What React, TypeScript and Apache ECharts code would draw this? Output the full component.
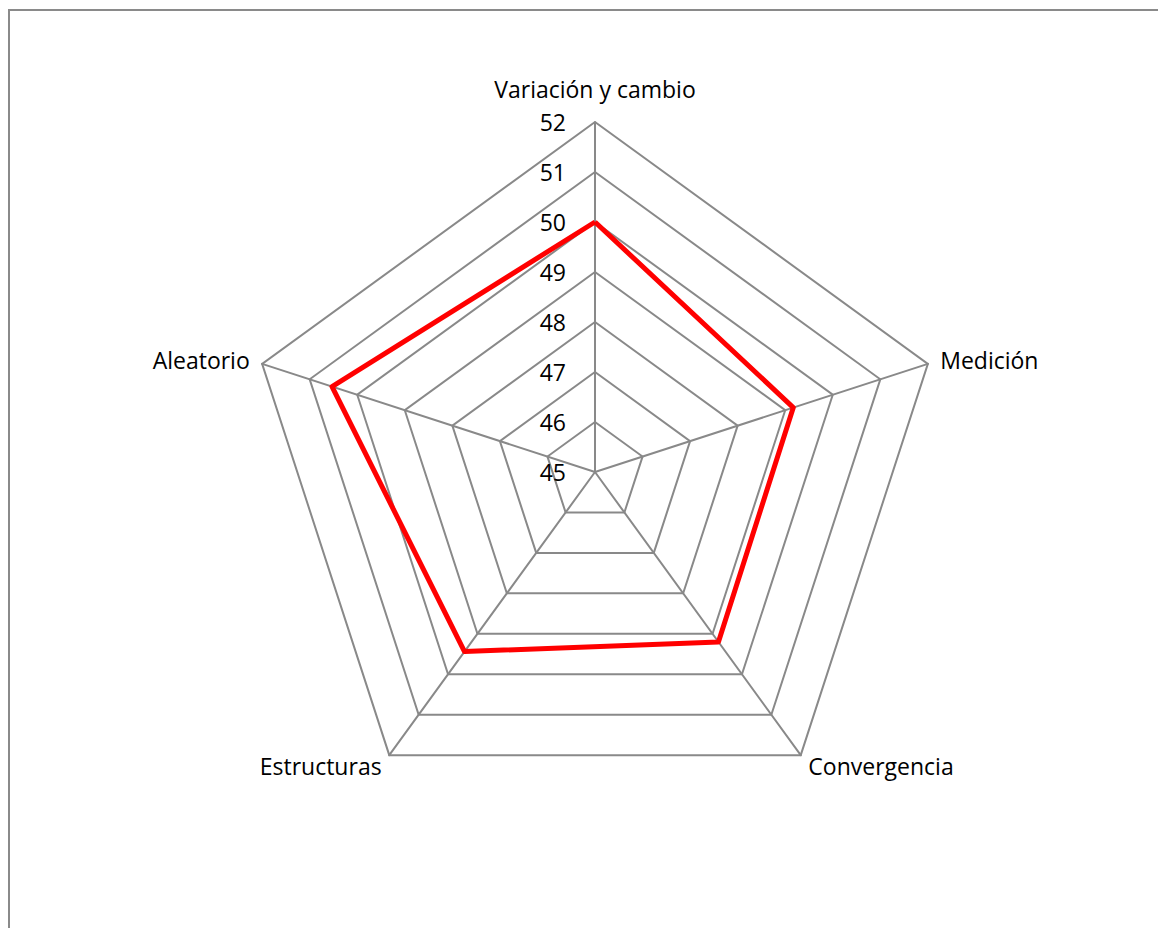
import React, { useEffect, useRef } from "react";
import * as echarts from "echarts";

// Listed in the clockwise order shown in the chart (starting at the top)
const categories = ["Variación y cambio", "Medición", "Convergencia", "Estructuras", "Aleatorio"];
const values = [50, 49.17, 49.2, 49.44, 50.53];
const axisMin = 45;
const axisMax = 52;

export default function App() {
  const ref = useRef<HTMLDivElement>(null);
  useEffect(() => {
    if (!ref.current) return;
    const chart = echarts.init(ref.current, undefined, { renderer: "svg" });
    const font = "Open Sans";
    const fs = 23;
    // ECharts radar runs counter-clockwise; reverse all but the first to get clockwise order
    const order = [0, ...categories.slice(1).map((_, i) => categories.length - 1 - i)];
    const cats = order.map((i) => categories[i]);
    const vals = order.map((i) => values[i]);
    chart.setOption({
      animation: false,
      backgroundColor: "#ffffff",
      graphic: [
        {
          type: "rect",
          shape: { x: 1, y: 2, width: 1400, height: 1400 },
          style: { fill: "none", stroke: "#8a8a8a", lineWidth: 2 },
          silent: true,
        },
      ],
      radar: {
        center: [587, 464],
        radius: 350,
        startAngle: 90,
        splitNumber: axisMax - axisMin,
        shape: "polygon",
        axisName: {
          color: "#000",
          fontSize: fs,
          fontFamily: font,
          formatter: (name: string) => (name === categories[0] ? "{top|" + name + "}" : name),
          rich: { top: { fontSize: fs, fontFamily: font, color: "#000", padding: [0, 0, 9, 0] } },
        },
        nameGap: 13,
        axisLine: { show: true, lineStyle: { color: "#898989", width: 2 } },
        splitLine: { show: true, lineStyle: { color: "#898989", width: 2 } },
        splitArea: { show: false },
        axisTick: { show: false },
        axisLabel: { show: false },
        indicator: cats.map((c, i) => ({
          name: c,
          min: axisMin,
          max: axisMax,
          axisLabel:
            i === 0
              ? { show: true, color: "#000", fontSize: fs, fontFamily: font, margin: 29, showMinLabel: true, showMaxLabel: true }
              : { show: false },
        })),
      },
      series: [
        {
          type: "radar",
          symbol: "none",
          lineStyle: { color: "#ff0000", width: 5 },
          data: [{ value: vals }],
        },
      ],
    });
    return () => chart.dispose();
  }, []);
  return <div ref={ref} style={{ width: 1158, height: 920 }} />;
}
